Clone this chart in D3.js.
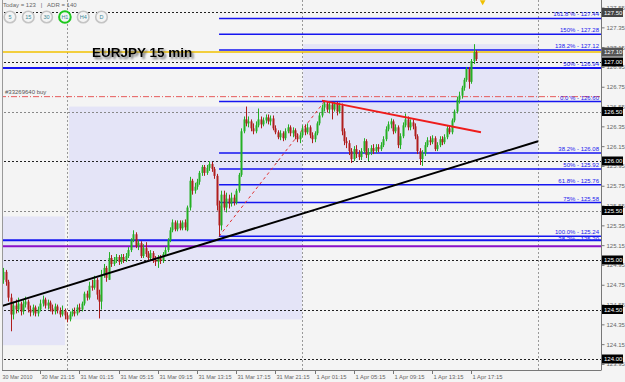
<!DOCTYPE html>
<html>
<head>
<meta charset="utf-8">
<script src="https://cdn.jsdelivr.net/npm/d3@7"></script>
<style>
  body { margin: 0; background: #f4f4f4; }
  svg { display: block; }
  text { font-family: "Liberation Sans", Arial, sans-serif; }
</style>
</head>
<body>
<svg id="chart" width="625" height="382"></svg>
<script>
// EURJPY M15 bars, first bar = 30 Mar 2010 17:15
var opens = [
  124.72,124.80,124.88,124.78,124.62,124.45,124.54,124.50,124.56,124.48,
  124.55,124.58,124.50,124.47,124.52,124.46,124.50,124.56,124.60,124.54,
  124.57,124.51,124.48,124.53,124.49,124.45,124.49,124.44,124.40,124.45,
  124.48,124.46,124.52,124.50,124.56,124.66,124.62,124.74,124.72,124.80,
  124.65,124.58,124.85,124.92,124.80,125.02,124.96,125.00,125.03,124.98,
  125.03,125.00,125.04,125.10,125.20,125.26,125.14,125.17,125.04,125.12,
  125.06,125.02,125.07,125.00,124.98,125.02,124.99,125.06,125.10,125.20,
  125.30,125.38,125.31,125.37,125.32,125.38,125.30,125.53,125.80,125.70,
  125.74,125.79,125.88,125.94,125.88,125.93,125.97,125.92,125.85,125.55,
  125.35,125.66,125.53,125.62,125.57,125.63,125.58,125.70,125.86,126.30,
  126.42,126.38,126.40,126.33,126.30,126.36,126.42,126.37,126.41,126.44,
  126.40,126.43,126.33,126.29,126.24,126.28,126.23,126.30,126.34,126.28,
  126.31,126.25,126.22,126.26,126.33,126.29,126.34,126.26,126.22,126.28,
  126.38,126.46,126.54,126.58,126.52,126.57,126.52,126.58,126.50,126.56,
  126.30,126.20,126.18,126.10,126.02,126.12,126.07,126.04,126.10,126.20,
  126.06,126.09,126.13,126.10,126.14,126.12,126.16,126.22,126.32,126.37,
  126.40,126.30,126.34,126.16,126.25,126.36,126.42,126.34,126.39,126.35,
  126.25,126.10,126.02,126.08,126.16,126.21,126.19,126.23,126.12,126.16,
  126.22,126.19,126.24,126.33,126.29,126.41,126.50,126.62,126.66,126.74,
  126.82,126.93,126.80,127.01,127.10
];
var highs = [
  124.84,124.92,124.90,124.80,124.66,124.58,124.60,124.62,124.58,124.60,
  124.63,124.60,124.54,124.55,124.54,124.53,124.60,124.64,124.62,124.60,
  124.59,124.55,124.56,124.55,124.52,124.54,124.51,124.47,124.48,124.51,
  124.52,124.55,124.56,124.58,124.68,124.69,124.78,124.80,124.84,124.82,
  124.70,124.90,124.96,124.94,125.08,125.05,125.03,125.06,125.05,125.06,
  125.06,125.07,125.13,125.22,125.30,125.28,125.20,125.19,125.16,125.18,
  125.09,125.10,125.09,125.04,125.05,125.05,125.08,125.13,125.22,125.33,
  125.41,125.40,125.40,125.40,125.40,125.41,125.55,125.84,125.82,125.78,
  125.82,125.90,125.96,125.96,125.96,126.00,125.99,125.94,125.87,125.60,
  125.70,125.70,125.68,125.66,125.68,125.66,125.72,125.88,126.33,126.45,
  126.55,126.45,126.42,126.38,126.40,126.53,126.45,126.44,126.47,126.47,
  126.46,126.46,126.36,126.31,126.31,126.30,126.33,126.37,126.36,126.34,
  126.33,126.28,126.29,126.36,126.37,126.38,126.36,126.29,126.30,126.40,
  126.49,126.57,126.61,126.60,126.60,126.60,126.60,126.60,126.59,126.58,
  126.33,126.24,126.21,126.13,126.15,126.16,126.11,126.13,126.23,126.22,
  126.13,126.16,126.17,126.17,126.17,126.19,126.25,126.35,126.40,126.43,
  126.42,126.37,126.36,126.28,126.39,126.48,126.45,126.42,126.42,126.38,
  126.27,126.13,126.11,126.19,126.24,126.25,126.26,126.25,126.19,126.25,
  126.25,126.27,126.36,126.36,126.43,126.52,126.65,126.70,126.76,126.84,
  126.95,126.95,127.03,127.18,127.12
];
var lows = [
  124.68,124.76,124.74,124.58,124.28,124.40,124.46,124.47,124.44,124.45,
  124.52,124.47,124.43,124.44,124.43,124.43,124.48,124.53,124.51,124.50,
  124.48,124.45,124.45,124.46,124.42,124.43,124.40,124.37,124.38,124.43,
  124.43,124.44,124.47,124.48,124.54,124.59,124.60,124.69,124.70,124.60,
  124.41,124.50,124.82,124.78,124.80,124.93,124.94,124.97,124.95,124.96,
  124.97,124.98,125.02,125.08,125.18,125.12,125.10,125.02,125.02,125.03,
  124.99,125.00,124.97,124.94,124.92,124.96,124.97,125.04,125.08,125.18,
  125.28,125.29,125.29,125.30,125.30,125.30,125.29,125.50,125.66,125.67,
  125.71,125.76,125.85,125.85,125.86,125.90,125.89,125.82,125.50,125.24,
  125.30,125.50,125.48,125.52,125.54,125.55,125.56,125.68,125.84,126.28,
  126.35,126.34,126.30,126.27,126.28,126.34,126.33,126.35,126.38,126.37,
  126.36,126.31,126.27,126.22,126.21,126.20,126.21,126.28,126.25,126.24,
  126.22,126.19,126.18,126.24,126.26,126.27,126.23,126.18,126.19,126.26,
  126.36,126.44,126.50,126.49,126.48,126.42,126.50,126.46,126.48,126.26,
  126.16,126.13,126.06,125.98,126.00,126.03,126.01,126.01,126.08,126.03,
  126.00,126.06,126.07,126.08,126.09,126.10,126.14,126.20,126.30,126.33,
  126.27,126.28,126.13,126.12,126.23,126.34,126.31,126.31,126.32,126.22,
  126.07,125.96,125.95,126.05,126.14,126.16,126.17,126.10,126.10,126.14,
  126.16,126.17,126.22,126.27,126.27,126.39,126.48,126.58,126.63,126.71,
  126.80,126.73,126.78,126.98,127.01
];
var closes = [
  124.80,124.88,124.78,124.62,124.45,124.54,124.50,124.56,124.48,124.55,
  124.58,124.50,124.47,124.52,124.46,124.50,124.56,124.60,124.54,124.57,
  124.51,124.48,124.53,124.49,124.45,124.49,124.44,124.40,124.45,124.48,
  124.46,124.52,124.50,124.56,124.66,124.62,124.74,124.72,124.80,124.65,
  124.58,124.85,124.92,124.82,125.02,124.96,125.00,125.03,124.98,125.03,
  125.00,125.04,125.10,125.20,125.26,125.14,125.17,125.04,125.12,125.06,
  125.02,125.07,125.00,124.98,125.02,124.99,125.06,125.10,125.20,125.30,
  125.38,125.31,125.37,125.32,125.38,125.33,125.53,125.80,125.70,125.74,
  125.79,125.88,125.94,125.88,125.93,125.97,125.92,125.85,125.55,125.35,
  125.66,125.53,125.62,125.57,125.63,125.58,125.70,125.86,126.30,126.42,
  126.38,126.40,126.33,126.30,126.36,126.42,126.37,126.41,126.44,126.40,
  126.43,126.33,126.29,126.24,126.28,126.23,126.30,126.34,126.28,126.31,
  126.25,126.22,126.26,126.33,126.29,126.34,126.26,126.22,126.28,126.38,
  126.46,126.54,126.58,126.52,126.57,126.52,126.58,126.50,126.56,126.30,
  126.20,126.18,126.10,126.02,126.12,126.07,126.04,126.10,126.20,126.06,
  126.09,126.13,126.10,126.14,126.12,126.16,126.22,126.32,126.37,126.40,
  126.30,126.34,126.16,126.25,126.36,126.42,126.34,126.39,126.35,126.25,
  126.10,126.02,126.08,126.16,126.21,126.19,126.23,126.12,126.16,126.22,
  126.19,126.24,126.33,126.29,126.41,126.50,126.62,126.66,126.74,126.82,
  126.93,126.80,127.01,127.10,127.03
];

var timeLabels = ["30 Mar 2010","30 Mar 21:15","31 Mar 01:15","31 Mar 05:15","31 Mar 09:15",
  "31 Mar 13:15","31 Mar 17:15","31 Mar 21:15","1 Apr 01:15","1 Apr 05:15",
  "1 Apr 09:15","1 Apr 13:15","1 Apr 17:15"];
var timeLabelBars = [0,16,32,48,64,80,96,112,128,144,160,176,192];
var daySeparators = [27,123,219];

var priceTicks = [127.55,127.35,127.15,126.95,126.75,126.55,126.35,126.15,125.95,125.75,
  125.55,125.35,125.15,124.95,124.75,124.55,124.35,124.15,123.95];
var roundLevels = [127.50,127.00,126.50,126.00,125.50,125.00,124.50,124.00];
var bidPrice = 127.10;

// fibonacci from low (bar 89) to high (bar 132)
var fibNames = ["161.8 %","150%","138.2%","0.0 %","38.2%","50%","61.8%","75%","100.0%"];
var fibLevels = [127.44,127.28,127.12,126.60,126.08,125.92,125.76,125.58,125.24];
var fibAnchor = [[89,125.24],[132,126.60]];

// older levels running over the whole chart
var oldFibNames = ["50%","38.2%"];
var oldFibLevels = [126.94,125.20];
var purpleLevel = 125.14;
var orderLevel = 126.65;
var orderLabel = "#33269640 buy";

var trendBlack = [[-0.4,124.53],[219.2,126.20]];
var trendRed = [[131,126.61],[195.9,126.29]];

// [fromBar, toBar, highPrice, lowPrice]
var sessionBoxes = [[0.8,26.1,125.44,124.14],[27.8,122.9,126.55,124.40],[123.3,219.2,127.18,126.01]];

var timeframes = ["5","15","30","H1","H4","D"];
var activeTf = "H1";
var todayRange = 123, adr = 140;
var markerBar = 196.6;

var svg = d3.select("#chart");
var W = 625, H = 382, right = 601, bottom = 370;

var x = d3.scaleLinear().domain([0, 244.9]).range([1, right]);
var y = d3.scaleLinear().domain([124, 127]).range([359, 62]);
function py(p){ return Math.round(y(p)) + 0.5; }

svg.append("rect").attr("width", W).attr("height", H).attr("fill", "#f4f4f4");

var defs = svg.append("defs");
defs.append("clipPath").attr("id","plot").append("rect")
  .attr("x", 2).attr("y", 0).attr("width", right - 2).attr("height", bottom);
defs.append("filter").attr("id","shadow").attr("x","-10%").attr("y","-30%").attr("width","130%").attr("height","170%")
  .append("feDropShadow").attr("dx", 2).attr("dy", 2).attr("stdDeviation", 1.3)
  .attr("flood-color", "#555").attr("flood-opacity", 0.8);

var plot = svg.append("g").attr("clip-path","url(#plot)");

// session boxes
plot.selectAll("rect.box").data(sessionBoxes).enter().append("rect").attr("class","box")
  .attr("x", function(d){ return x(d[0]); })
  .attr("y", function(d){ return y(d[2]); })
  .attr("width", function(d){ return x(d[1]) - x(d[0]); })
  .attr("height", function(d){ return y(d[3]) - y(d[2]); })
  .attr("fill", "#e4e4f7");

// day separators
plot.selectAll("line.sep").data(daySeparators).enter().append("line")
  .attr("x1", function(d){ return Math.round(x(d)) + 0.5; })
  .attr("x2", function(d){ return Math.round(x(d)) + 0.5; })
  .attr("y1", 0).attr("y2", bottom)
  .attr("stroke", "#999").attr("stroke-dasharray", "2,2");

// round number levels
plot.selectAll("line.round").data(roundLevels).enter().append("line")
  .attr("x1", 0).attr("x2", right)
  .attr("y1", py).attr("y2", py)
  .attr("stroke", function(d){ return (d === 126.5 || d === 125.5) ? "#888" : "#222"; })
  .attr("stroke-dasharray", "2,2");

// full width levels
function hline(p, color, width, dash){
  plot.append("line").attr("x1", 0).attr("x2", right)
    .attr("y1", y(p)).attr("y2", y(p))
    .attr("stroke", color).attr("stroke-width", width)
    .attr("stroke-dasharray", dash || null);
}
hline(bidPrice, "#f2c200", 1.5);
hline(oldFibLevels[0], "#1515f0", 2);
hline(oldFibLevels[1], "#1515f0", 2);
hline(purpleLevel, "#8a10c8", 2);
hline(orderLevel, "#e65a5a", 1, "6,2,1,2");

plot.append("text").attr("x", 5).attr("y", y(orderLevel) - 3)
  .attr("font-size", 6).attr("fill", "#555").text(orderLabel);

// fib lines
plot.selectAll("line.fib").data(fibLevels).enter().append("line")
  .attr("x1", x(fibAnchor[0][0])).attr("x2", right)
  .attr("y1", y).attr("y2", y)
  .attr("stroke", "#1515f0").attr("stroke-width", 1.5);

plot.append("line")
  .attr("x1", x(fibAnchor[0][0])).attr("y1", y(fibAnchor[0][1]))
  .attr("x2", x(fibAnchor[1][0])).attr("y2", y(fibAnchor[1][1]))
  .attr("stroke", "#e03030").attr("stroke-dasharray", "3,3");

// candles
var bars = d3.range(closes.length);
var bull = "#25b025", bear = "#b01e1e";
plot.selectAll("line.wick").data(bars).enter().append("line")
  .attr("x1", function(i){ return Math.round(x(i)) + 0.5; })
  .attr("x2", function(i){ return Math.round(x(i)) + 0.5; })
  .attr("y1", function(i){ return y(highs[i]); })
  .attr("y2", function(i){ return y(lows[i]); })
  .attr("stroke", function(i){ return closes[i] >= opens[i] ? bull : bear; });
plot.selectAll("rect.body").data(bars).enter().append("rect")
  .attr("x", function(i){ return Math.round(x(i)) - 0.5; })
  .attr("y", function(i){ return y(Math.max(opens[i], closes[i])); })
  .attr("width", 2)
  .attr("height", function(i){ return Math.max(1, Math.abs(y(opens[i]) - y(closes[i]))); })
  .attr("fill", function(i){ return closes[i] >= opens[i] ? bull : bear; });

// trend lines
plot.append("line")
  .attr("x1", x(trendBlack[0][0])).attr("y1", y(trendBlack[0][1]))
  .attr("x2", x(trendBlack[1][0])).attr("y2", y(trendBlack[1][1]))
  .attr("stroke", "#000").attr("stroke-width", 2);
plot.append("line")
  .attr("x1", x(trendRed[0][0])).attr("y1", y(trendRed[0][1]))
  .attr("x2", x(trendRed[1][0])).attr("y2", y(trendRed[1][1]))
  .attr("stroke", "#ee1c1c").attr("stroke-width", 2);

// fib labels
var fibText = fibNames.map(function(n, k){ return [n + " - " + fibLevels[k].toFixed(2), fibLevels[k], -2]; })
  .concat(oldFibNames.map(function(n, k){ return [n + " - " + oldFibLevels[k].toFixed(2), oldFibLevels[k], k === 1 ? 1 : -2]; }));
plot.selectAll("text.fib").data(fibText).enter().append("text")
  .attr("x", 599).attr("y", function(d){ return y(d[1]) + d[2]; })
  .attr("text-anchor", "end").attr("font-size", 6).attr("fill", "#2020ee")
  .text(function(d){ return d[0]; });

// frame and axes
svg.append("line").attr("x1", 2.5).attr("x2", 2.5).attr("y1", 0).attr("y2", bottom).attr("stroke", "#999");
svg.append("line").attr("x1", right + 0.5).attr("x2", right + 0.5).attr("y1", 0).attr("y2", bottom + 0.5).attr("stroke", "#777");
svg.append("line").attr("x1", 2).attr("x2", right).attr("y1", bottom + 0.5).attr("y2", bottom + 0.5).attr("stroke", "#777");

var yAxis = d3.axisRight(y).tickValues(priceTicks).tickSize(3).tickFormat(d3.format(".2f"));
var ga = svg.append("g").attr("transform", "translate(" + (right + 0.5) + ",0)").call(yAxis);
ga.select(".domain").remove();
ga.selectAll("line").attr("stroke", "#777");
ga.selectAll("text").attr("font-size", 6).attr("fill", "#666").attr("x", 5)
  .style("font-family", "'Liberation Sans', Arial, sans-serif");

// price boxes on the axis
var boxPrices = [127.50, bidPrice].concat(roundLevels.slice(1));
var pb = svg.selectAll("g.pbox").data(boxPrices).enter().append("g")
  .attr("transform", function(d){ return "translate(602," + y(d) + ")"; });
pb.append("rect").attr("x", 0).attr("y", -4.5).attr("width", 21).attr("height", 9)
  .attr("fill", function(d){ return d === 127.5 ? "#444" : d === bidPrice ? "#555" : "#000"; });
pb.append("text").attr("x", 2).attr("y", 2.3).attr("font-size", 6).attr("fill", "#fff")
  .text(function(d){ return d.toFixed(2); });

// time axis
var tx = svg.selectAll("g.tl").data(timeLabelBars).enter().append("g")
  .attr("transform", function(d){ return "translate(" + (Math.round(x(d)) + 0.5) + "," + bottom + ")"; });
tx.append("line").attr("y1", 1).attr("y2", 4).attr("stroke", "#777")
  .attr("display", function(d, k){ return k === 0 ? "none" : null; });
tx.append("text").attr("x", 1).attr("y", 9).attr("font-size", 6).attr("fill", "#666")
  .attr("textLength", function(d, k){ return timeLabels[k].length > 11 ? 33 : 30; })
  .attr("lengthAdjust", "spacingAndGlyphs")
  .text(function(d, k){ return timeLabels[k]; });

// header info
svg.append("text").attr("x", 3).attr("y", 7).attr("font-size", 6).attr("fill", "#666")
  .attr("xml:space", "preserve")
  .text("Today = " + todayRange + "   |   ADR = " + adr);

var tf = svg.selectAll("g.tf").data(timeframes).enter().append("g")
  .attr("transform", function(d, k){ return "translate(" + (10 + k * 18.3) + ",17)"; });
tf.append("circle").attr("r", 5.8)
  .attr("fill", "#f4f4f4")
  .attr("stroke", function(d){ return d === activeTf ? "#1ec81e" : "#c4c4c4"; })
  .attr("stroke-width", function(d){ return d === activeTf ? 2 : 1.6; });
tf.append("text").attr("text-anchor", "middle").attr("y", 2).attr("font-size", 5.5)
  .attr("fill", "#3a8a9a").text(function(d){ return d; });

// title with drop shadow
svg.append("text").attr("x", 92).attr("y", 57).attr("font-size", 13.5).attr("font-weight", "bold")
  .attr("fill", "#000").attr("filter", "url(#shadow)").text("EURJPY 15 min");

// small marker above the newest bar
svg.append("path").attr("d", d3.symbol().type(d3.symbolTriangle).size(14)())
  .attr("transform", "translate(" + x(markerBar) + ",2) rotate(180)")
  .attr("fill", "#f0c000");
</script>
</body>
</html>
